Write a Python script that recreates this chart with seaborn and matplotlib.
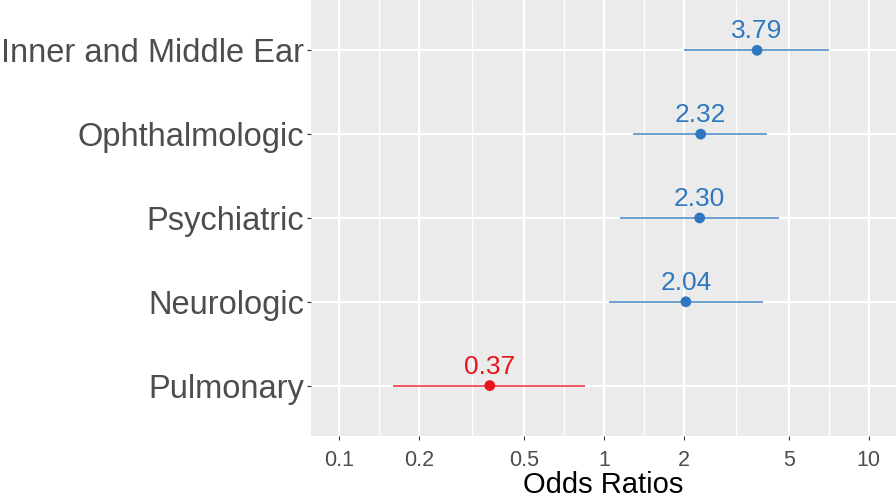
import numpy as np
import pandas as pd
import matplotlib
matplotlib.use("Agg")
import matplotlib.pyplot as plt
from matplotlib.ticker import FixedLocator, NullFormatter
import seaborn as sns

# values (bottom to top)
systems = ["Pulmonary", "Neurologic", "Psychiatric", "Ophthalmologic", "Inner and Middle Ear"]
odds = [0.37, 2.04, 2.30, 2.32, 3.79]
ci_low = [0.16, 1.04, 1.15, 1.29, 2.00]
ci_high = [0.85, 3.98, 4.60, 4.15, 7.10]
labels = ["0.37", "2.04", "2.30", "2.32", "3.79"]

df = pd.DataFrame({"system": systems, "OR": odds, "lo": ci_low, "hi": ci_high, "lab": labels})
df["dir"] = np.where(df["OR"] < 1, "down", "up")
pal = {"up": "#2F78BF", "down": "#E8141B"}

sns.set_theme(style="darkgrid", rc={
    "axes.facecolor": "#EBEBEB",
    "grid.color": "white",
})
plt.rcParams["font.family"] = ["Liberation Sans", "DejaVu Sans"]

fig = plt.figure(figsize=(8.96, 5.01), dpi=100)
ax = fig.add_axes([0.347, 0.13, 0.653, 0.87])

# confidence intervals
for _, r in df.iterrows():
    ax.hlines(r["system"], r["lo"], r["hi"], color=pal[r["dir"]], lw=1.1, alpha=0.9, zorder=3)

sns.scatterplot(data=df, x="OR", y="system", hue="dir", palette=pal, s=60,
                edgecolor="none", legend=False, ax=ax, zorder=4)

for _, r in df.iterrows():
    ax.annotate(r["lab"], (r["OR"], r["system"]), xytext=(0, 5), textcoords="offset points",
                ha="center", va="bottom", fontsize=19, color=pal[r["dir"]])

ax.set_xscale("log")
ax.set_xlim(0.078, 12.7)
ax.set_ylim(-0.6, 4.6)
major = [0.1, 0.2, 0.5, 1, 2, 5, 10]
minor = [np.sqrt(a * b) for a, b in zip(major[:-1], major[1:])]
ax.xaxis.set_major_locator(FixedLocator(major))
ax.xaxis.set_minor_locator(FixedLocator(minor))
ax.xaxis.set_minor_formatter(NullFormatter())
ax.set_xticklabels(["0.1", "0.2", "0.5", "1", "2", "5", "10"])
ax.grid(which="major", color="white", lw=1.6)
ax.grid(which="minor", axis="x", color="white", lw=0.9)

ax.tick_params(axis="x", which="major", labelsize=15.5, labelcolor="#4D4D4D", length=3,
               color="#333333", width=0.8, bottom=True, pad=7)
ax.tick_params(axis="x", which="minor", length=0)
ax.tick_params(axis="y", labelsize=23.5, labelcolor="#4D4D4D", length=3,
               color="#333333", width=0.8, left=True, pad=2)
for s in ax.spines.values():
    s.set_visible(False)

ax.set_ylabel("")
ax.set_xlabel("Odds Ratios", fontsize=21, color="black", labelpad=0)

fig.savefig("out.png", dpi=100)
